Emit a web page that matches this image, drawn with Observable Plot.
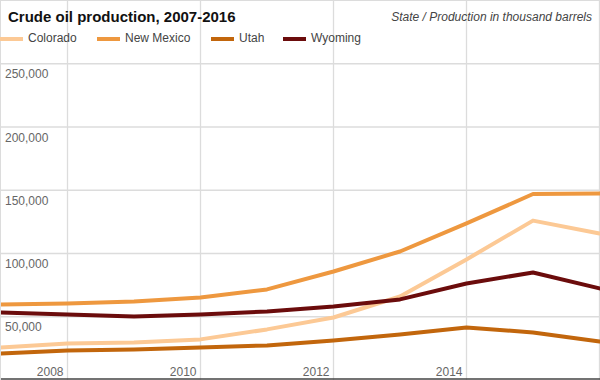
<!DOCTYPE html>
<html>
<head>
<meta charset="utf-8">
<script src="https://cdn.jsdelivr.net/npm/d3@7"></script>
<script src="https://cdn.jsdelivr.net/npm/@observablehq/plot@0.6"></script>
<style>
  html, body { margin: 0; padding: 0; background: #fff; }
  #wrap { position: relative; width: 600px; height: 380px; font-family: "Liberation Sans", Arial, sans-serif; }
  #title { position: absolute; left: 8px; top: 8px; font-size: 15px; font-weight: bold; color: #111; }
  #sub { position: absolute; right: 8px; top: 10px; font-size: 12px; font-style: italic; color: #444; }
  #legend { position: absolute; left: 0; top: 31px; font-size: 12px; color: #444; }
  .item { position: absolute; white-space: nowrap; top: 0; }
  .sw { position: absolute; top: 6px; width: 23px; height: 4px; }
  .lab { position: absolute; top: 0; }
</style>
</head>
<body>
<div id="wrap">
  <div id="chart"></div>
  <div id="title">Crude oil production, 2007-2016</div>
  <div id="sub">State / Production in thousand barrels</div>
  <div id="legend"></div>
</div>
<script>
const years = [2007, 2008, 2009, 2010, 2011, 2012, 2013, 2014, 2015, 2016];
const states = ["Colorado", "New Mexico", "Utah", "Wyoming"];
const colors = ["#fcc995", "#ee983f", "#c2660c", "#6b0c0c"];
const colorado = [25700, 28900, 29700, 32100, 40000, 49400, 66000, 95300, 126000, 115800];
const newMexico = [59700, 60500, 62000, 65300, 71600, 85800, 101600, 123800, 147000, 147500];
const utah = [21000, 23300, 24100, 25700, 27300, 31200, 36000, 41500, 37600, 30500];
const wyoming = [53400, 51800, 50200, 51800, 54200, 58100, 63700, 76300, 85000, 72400];
const xTicks = [2008, 2010, 2012, 2014];
const yTicks = [50000, 100000, 150000, 200000, 250000];

const series = [colorado, newMexico, utah, wyoming];
const data = [];
states.forEach((s, i) => years.forEach((y, j) => data.push({state: s, year: y, value: series[i][j]})));

const fmt = d3.format(",");

const chart = Plot.plot({
  width: 600,
  height: 380,
  margin: 0,
  style: {fontFamily: "'Liberation Sans', Arial, sans-serif", fontSize: "12px", background: "#fff"},
  x: {domain: [2007, 2016], range: [0.5, 599], axis: null},
  y: {domain: [0, 300000], range: [379.5, 0], axis: null},
  color: {domain: states, range: colors},
  marks: [
    Plot.ruleX(xTicks, {stroke: "#dcdcdc", strokeWidth: 1.3}),
    Plot.ruleX([2016], {stroke: "#dcdcdc", strokeWidth: 1.3}),
    Plot.ruleY(yTicks, {stroke: "#dcdcdc", strokeWidth: 1.3}),
    Plot.text(yTicks, {x: 2007, y: d => d, text: d => fmt(d), textAnchor: "start", lineAnchor: "top", dx: 4, dy: 6, fill: "#666"}),
    Plot.text(xTicks, {x: d => d, frameAnchor: "bottom", text: d => String(d), textAnchor: "end", lineAnchor: "bottom", dx: -4, dy: -5, fill: "#666"}),
    Plot.line(data, {x: "year", y: "value", z: "state", stroke: "state", strokeWidth: 4, curve: "linear"}),
    Plot.ruleY([0], {dy: -1, stroke: "#444", strokeWidth: 1.5}),
    Plot.frame({stroke: "#dcdcdc"})
  ]
});
document.getElementById("chart").appendChild(chart);

const legend = document.getElementById("legend");
const swX = [0, 97, 211, 283];
states.forEach((s, i) => {
  const it = document.createElement("div");
  it.className = "item";
  it.style.left = swX[i] + "px";
  it.innerHTML = `<span class="sw" style="left:0;background:${colors[i]}"></span><span class="lab" style="left:28px">${s}</span>`;
  legend.appendChild(it);
});
</script>
</body>
</html>
